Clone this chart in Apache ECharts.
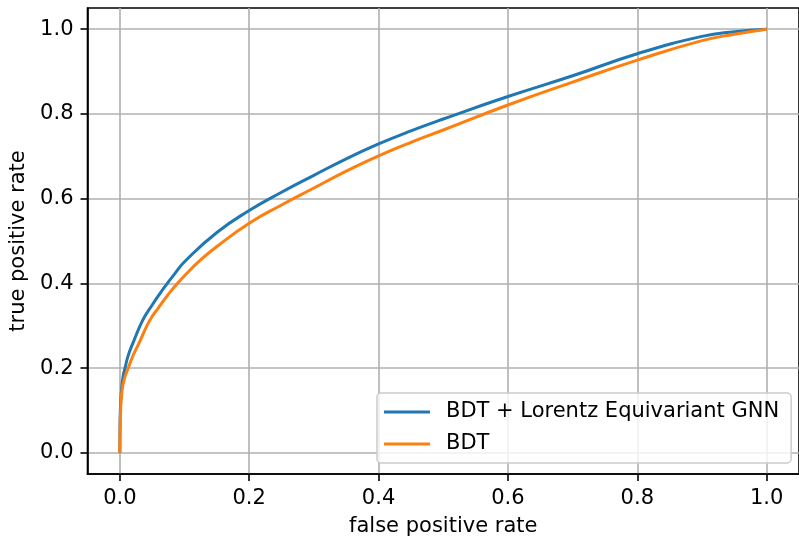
<!DOCTYPE html>
<html>
<head>
<meta charset="utf-8">
<script src="https://cdn.jsdelivr.net/npm/echarts@6/dist/echarts.min.js"></script>
<style>
  html, body { margin: 0; padding: 0; background: #fff; }
  #main { width: 799px; height: 542px; }
</style>
</head>
<body>
<div id="main"></div>
<script>
// values
var tickValues = [0, 0.2, 0.4, 0.6, 0.8, 1.0];

var gnnFpr = [0, 0.0002, 0.0008, 0.0023, 0.005, 0.008, 0.013, 0.021, 0.036, 0.05, 0.062, 0.072, 0.085, 0.1, 0.15, 0.2, 0.25, 0.3, 0.35, 0.4, 0.45, 0.5, 0.6, 0.7, 0.8, 0.9, 0.95, 1];
var gnnTpr = [0, 0.05, 0.1, 0.143, 0.18, 0.2, 0.23, 0.262, 0.315, 0.349, 0.376, 0.397, 0.423, 0.451, 0.52, 0.572, 0.615, 0.655, 0.694, 0.729, 0.76, 0.788, 0.841, 0.89, 0.942, 0.983, 0.994, 1];

var bdtFpr = [0, 0.0003, 0.001, 0.003, 0.007, 0.013, 0.02, 0.03, 0.046, 0.06, 0.077, 0.088, 0.1, 0.124, 0.15, 0.2, 0.25, 0.3, 0.35, 0.4, 0.45, 0.5, 0.6, 0.7, 0.8, 0.9, 0.95, 1];
var bdtTpr = [0, 0.05, 0.09, 0.143, 0.175, 0.2, 0.228, 0.26, 0.312, 0.343, 0.378, 0.398, 0.418, 0.454, 0.487, 0.542, 0.585, 0.625, 0.665, 0.701, 0.733, 0.762, 0.821, 0.875, 0.927, 0.973, 0.988, 1];

function pairs(xs, ys) {
    var out = [];
    for (var i = 0; i < xs.length; i++) {
        out.push([xs[i], ys[i]]);
    }
    return out;
}

var font = 'DejaVu Sans';
var fs = 21;
var myChart = echarts.init(document.getElementById('main'));

function axisBase(name) {
    return {
        type: 'value',
        min: -0.05,
        max: 1.05,
        name: name,
        nameLocation: 'middle',
        nameTextStyle: { fontFamily: font, fontSize: fs, color: '#000' },
        axisLine: { show: true, onZero: false, lineStyle: { color: '#000', width: 1.6 } },
        axisTick: { show: true, customValues: tickValues, length: 7, lineStyle: { color: '#000', width: 1.6 } },
        axisLabel: {
            customValues: tickValues,
            margin: 14,
            fontFamily: font,
            fontSize: fs,
            color: '#000',
            formatter: function(v) { return v.toFixed(1); }
        },
        splitLine: { show: true, lineStyle: { color: '#b0b0b0', width: 1.6 } }
    };
}

var xAxis = axisBase('false positive rate');
xAxis.nameGap = 42;
var yAxis = axisBase('true positive rate');
yAxis.nameGap = 56;

option = {
    animation: false,
    backgroundColor: '#fff',
    grid: {
        left: 87.5,
        top: 8,
        width: 715,
        height: 467,
        show: true,
        borderColor: '#000',
        borderWidth: 1.6,
        containLabel: false
    },
    legend: {
        orient: 'vertical',
        left: 377,
        top: 393,
        padding: [8, 12, 8, 7],
        itemGap: 10,
        itemWidth: 46,
        itemHeight: 3,
        icon: 'rect',
        backgroundColor: 'rgba(255,255,255,0.8)',
        borderColor: '#cccccc',
        borderWidth: 1.5,
        borderRadius: 4,
        textStyle: { fontFamily: font, fontSize: fs, color: '#000', lineHeight: 22, padding: [0, 0, 0, 11] },
        data: ['BDT + Lorentz Equivariant GNN', 'BDT']
    },
    xAxis: xAxis,
    yAxis: yAxis,
    series: [
        {
            name: 'BDT + Lorentz Equivariant GNN',
            type: 'line',
            data: pairs(gnnFpr, gnnTpr),
            showSymbol: false,
            smooth: 0.5,
            color: '#1f77b4',
            lineStyle: { width: 3, color: '#1f77b4' }
        },
        {
            name: 'BDT',
            type: 'line',
            data: pairs(bdtFpr, bdtTpr),
            showSymbol: false,
            smooth: 0.5,
            color: '#ff7f0e',
            lineStyle: { width: 3, color: '#ff7f0e' }
        }
    ]
};

myChart.setOption(option);
</script>
</body>
</html>
